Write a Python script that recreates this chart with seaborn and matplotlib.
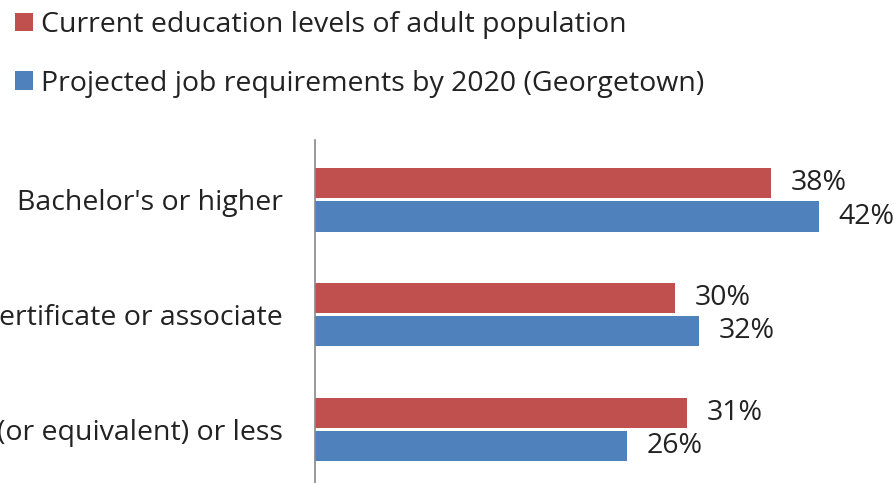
import matplotlib
matplotlib.use("Agg")
import matplotlib.pyplot as plt
import seaborn as sns
import pandas as pd

# Education attainment vs. projected job requirements
categories = ["Bachelor's or higher", "Certificate or associate",
              "High school (or equivalent) or less"]
series_names = ["Current education levels of adult population",
                "Projected job requirements by 2020 (Georgetown)"]
current_levels = [38, 30, 31]
projected_requirements = [42, 32, 26]
palette = ["#C0504D", "#4F81BD"]

df = pd.DataFrame({
    "category": categories * 2,
    "series": [series_names[0]] * 3 + [series_names[1]] * 3,
    "value": current_levels + projected_requirements,
})

sns.set_theme(style="white")
plt.rcParams["font.family"] = ["Open Sans", "DejaVu Sans"]
FS = 20.5

W, H = 894, 483
fig = plt.figure(figsize=(W / 100, H / 100), dpi=100)
ax_left, ax_top = 315, 140
ax = fig.add_axes([ax_left / W, 0, (W - ax_left) / W, (H - ax_top) / H])

sns.barplot(data=df, y="category", x="value", hue="series",
            hue_order=series_names, order=categories, palette=palette,
            width=0.58, gap=0.09, saturation=1, orient="h", ax=ax,
            edgecolor="none")

for cont, vals in zip(ax.containers, [current_levels, projected_requirements]):
    ax.bar_label(cont, labels=[f"{v}%" for v in vals], padding=14,
                 fontsize=FS, color="#222222")

ax.set_xlim(0, (W - ax_left) / 12)
ax.set_ylim(2.467, -0.523)
ax.set_xlabel("")
ax.set_ylabel("")
ax.set_xticks([])
ax.tick_params(axis="y", length=0, pad=23, labelsize=FS, labelcolor="#222222")
for s in ["top", "right", "bottom"]:
    ax.spines[s].set_visible(False)
ax.spines["left"].set_color("#888888")
ax.spines["left"].set_linewidth(1.2)

sns.move_legend(ax, "upper left", bbox_to_anchor=(15 / W, 1 - 11 / H),
                bbox_transform=fig.transFigure, frameon=False, title=None,
                fontsize=FS, handlelength=0.63, handleheight=0.63,
                handletextpad=0.3, labelspacing=1.08, borderpad=0,
                borderaxespad=0)
for t in ax.get_legend().get_texts():
    t.set_color("#222222")

fig.savefig("out.png", dpi=100)
